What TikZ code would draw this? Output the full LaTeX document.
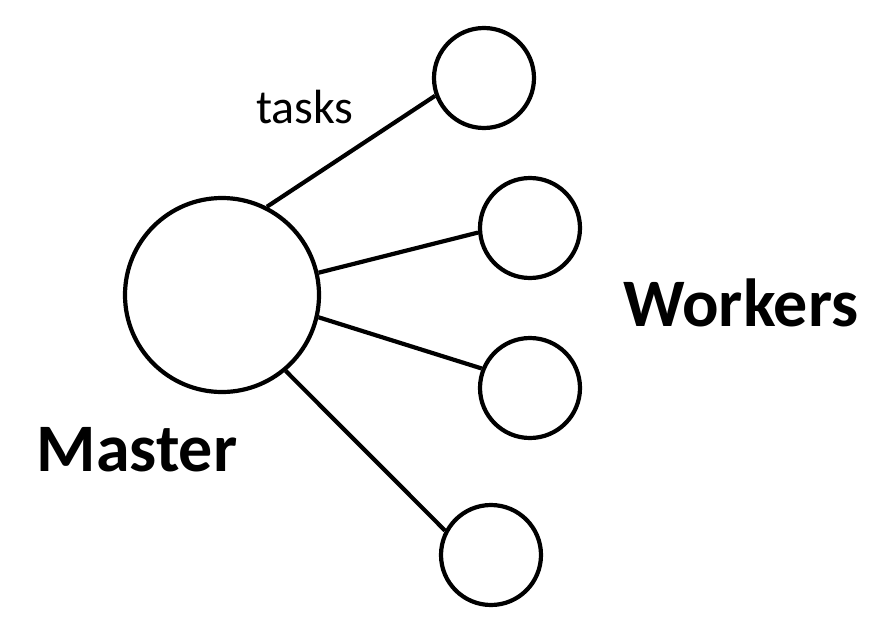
\documentclass[tikz,border=0pt]{standalone}
\usepackage{fontspec}
\setmainfont{Carlito}
\begin{document}
\begin{tikzpicture}[x=1pt,y=-1pt,
  blob/.style={circle,draw,line width=4.2pt,inner sep=0pt},
  link/.style={line width=4.2pt},
  big/.style={font=\fontsize{68}{72}\selectfont\bfseries,anchor=base},
  small/.style={font=\fontsize{48}{52}\selectfont,anchor=base}]
\useasboundingbox (0,0) rectangle (896,618);
\node[blob,minimum size=194pt] (m) at (222,295) {};
\node[blob,minimum size=100pt] (w1) at (484,78) {};
\node[blob,minimum size=100pt] (w2) at (530,228) {};
\node[blob,minimum size=100pt] (w3) at (530,388) {};
\node[blob,minimum size=100pt] (w4) at (491,555) {};
\draw[link] (m.63) -- (w1.200);
\draw[link] (m.13) -- (w2.185);
\draw[link] (m.-13) -- (w3.158);
\draw[link] (m.-50) -- (w4.152);
\node[small] (t) at (305,123) {tasks};
\node[big] (wl) at (741,326) {Workers};
\node[big] (ml) at (137,471) {Master};
\end{tikzpicture}
\end{document}
